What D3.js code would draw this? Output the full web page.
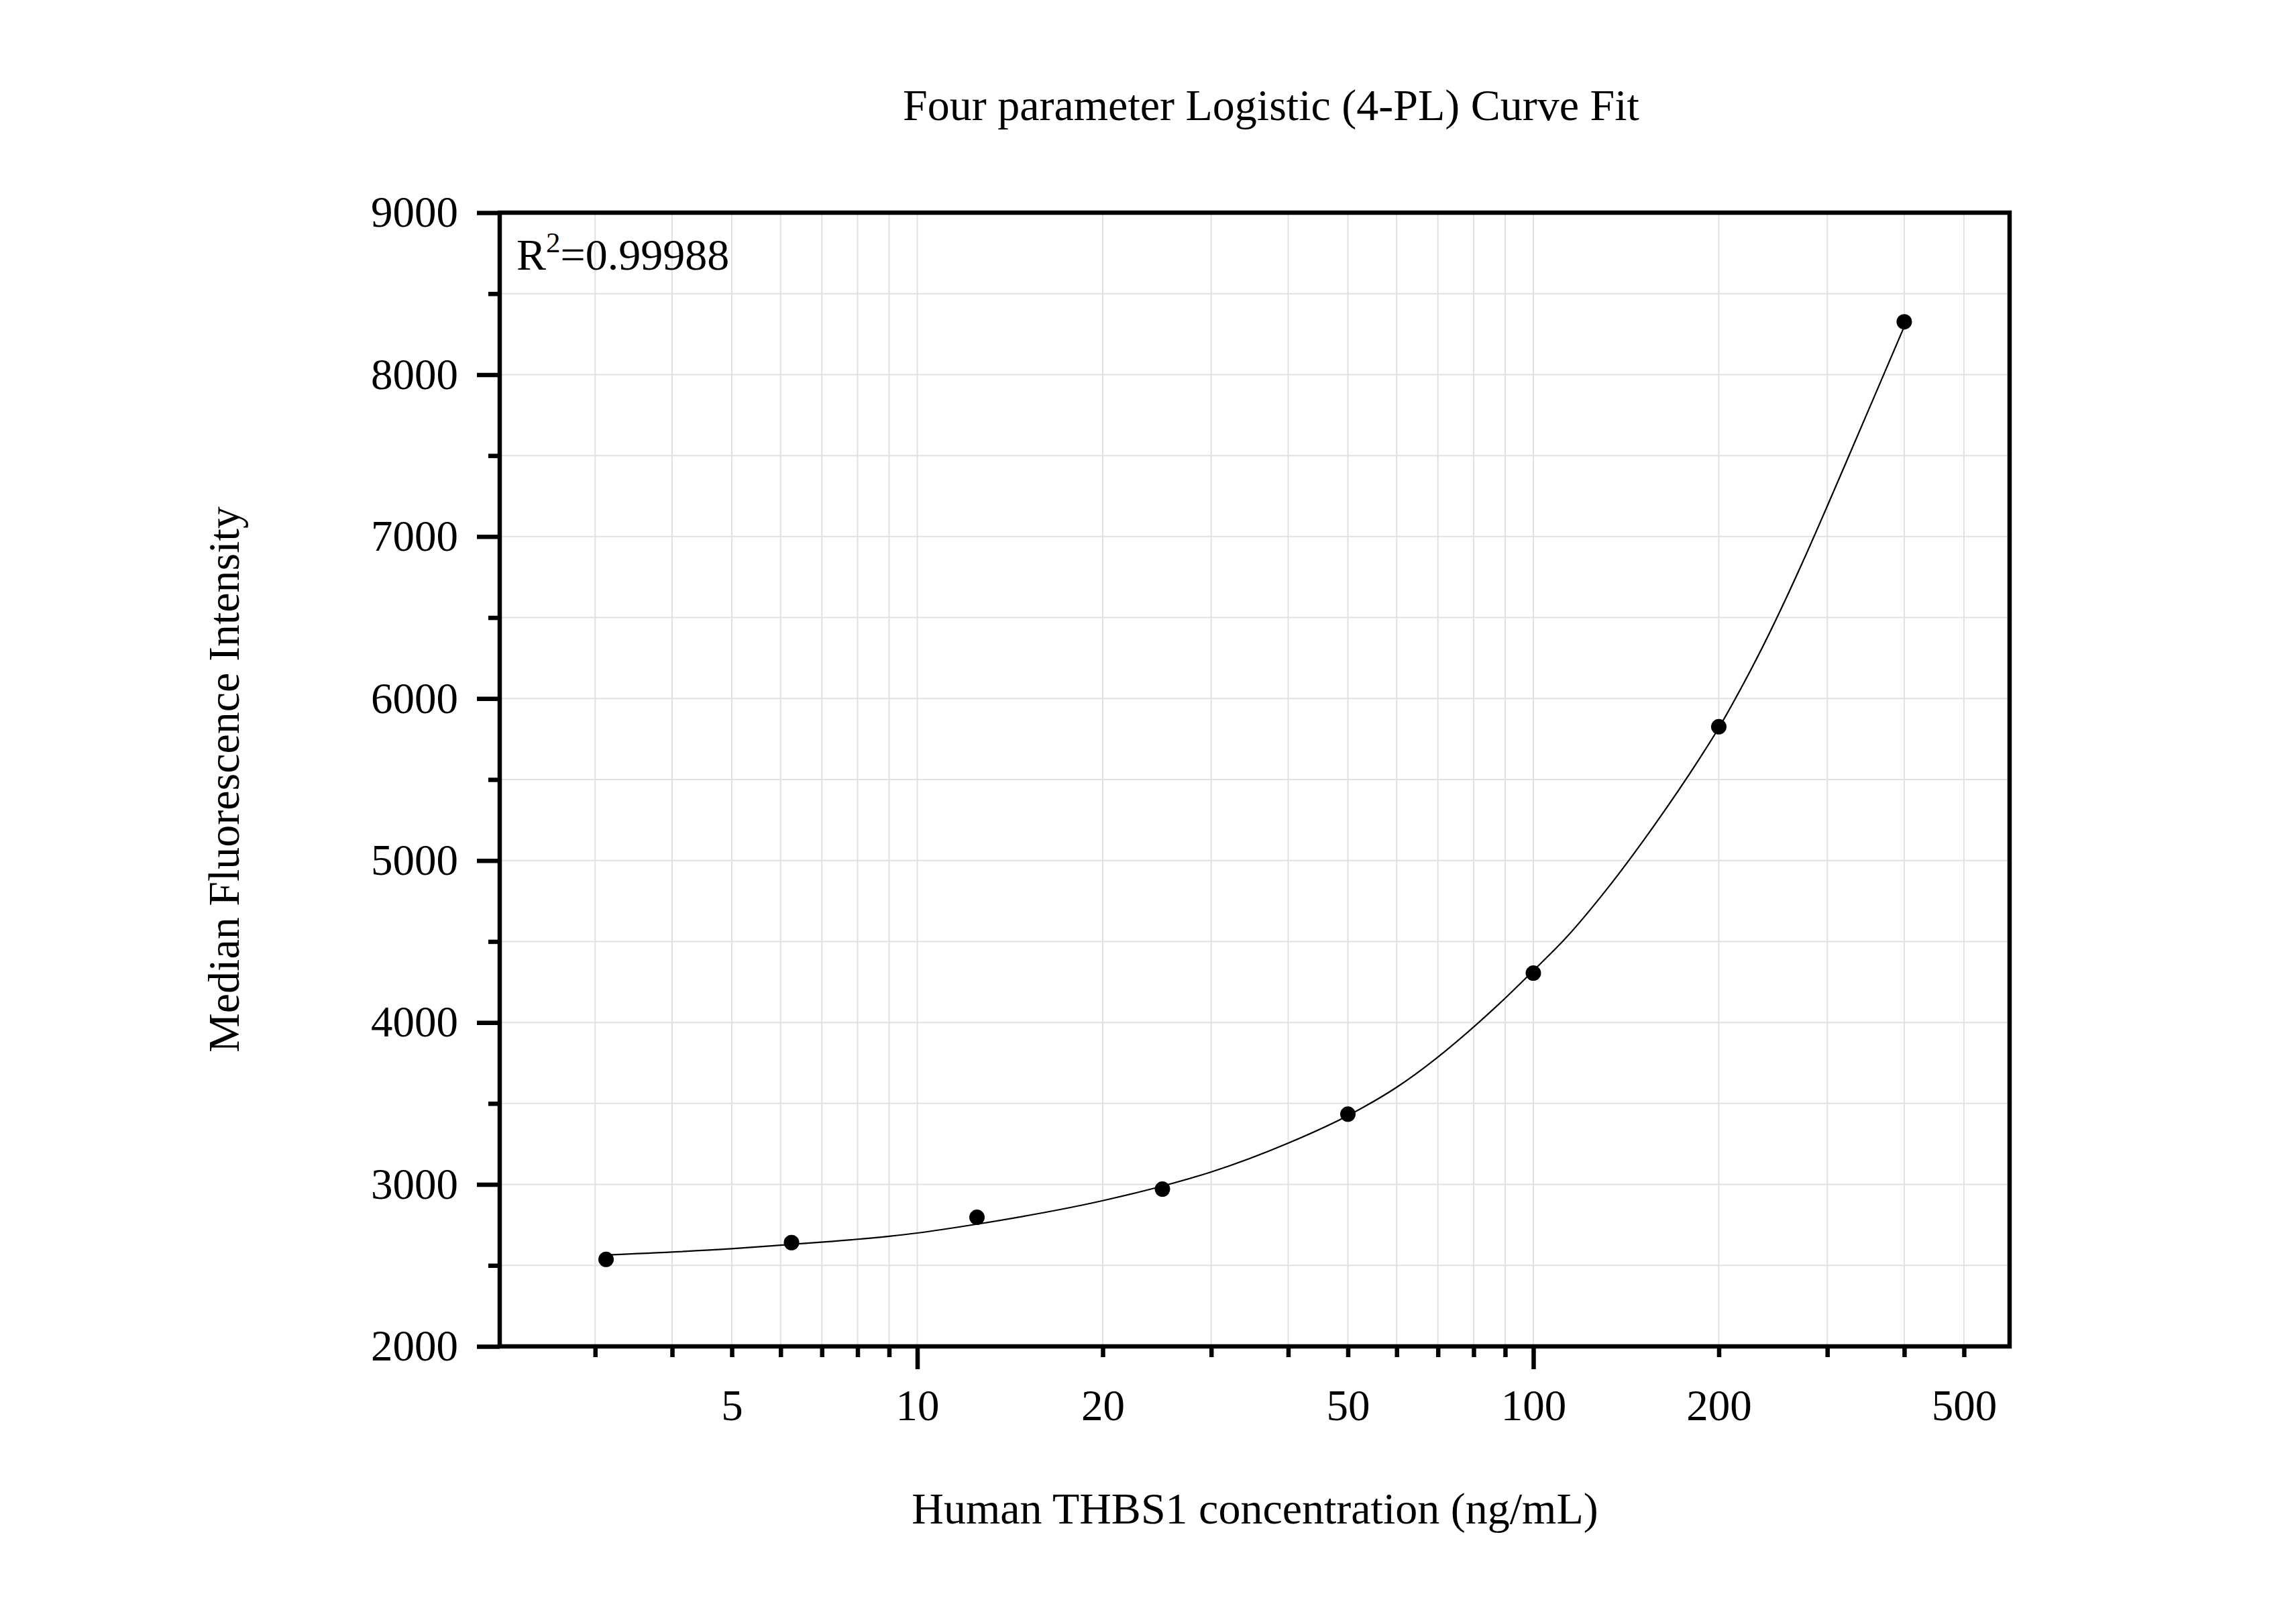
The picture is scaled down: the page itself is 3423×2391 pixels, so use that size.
<!DOCTYPE html>
<html>
<head>
<meta charset="utf-8">
<script src="https://cdn.jsdelivr.net/npm/d3@7/dist/d3.min.js"></script>
<style>
body { margin: 0; background: #ffffff; }
text { font-family: "Liberation Serif", "Times New Roman", serif; fill: #000000; }
</style>
</head>
<body>
<div id="chart"></div>
<script>
// standard points (concentration in ng/mL, MFI)
var concentrations = [3.125, 6.25, 12.5, 25, 50, 100, 200, 400];
var intensities = [2537, 2641, 2797, 2971, 3434, 4305, 5826, 8326];

// fitted 4-PL curve
var fitX = [3.125, 5, 6, 9, 10, 12.5, 20, 25, 30, 40, 50, 60, 88, 100, 112.5, 133, 157, 186, 200, 225, 362, 400];
var fitY = [2565, 2603, 2625, 2680, 2700, 2755, 2900, 2990, 3077, 3255, 3425, 3600, 4115, 4320, 4515, 4845, 5215, 5628, 5819, 6171, 7911, 8297];

var xMinorTicks = [3, 4, 5, 6, 7, 8, 9, 20, 30, 40, 50, 60, 70, 80, 90, 200, 300, 400, 500];
var xMajorTicks = [10, 100];
var xTickLabels = [5, 10, 20, 50, 100, 200, 500];
var yMajorTicks = [2000, 3000, 4000, 5000, 6000, 7000, 8000, 9000];
var yMinorTicks = [2500, 3500, 4500, 5500, 6500, 7500, 8500];

var chartTitle = "Four parameter Logistic (4-PL) Curve Fit";
var xTitle = "Human THBS1 concentration (ng/mL)";
var yTitle = "Median Fluorescence Intensity";
var rSquared = "0.99988";

var W = 3423, H = 2391;
var plot = {left: 745, right: 2996, top: 317, bottom: 2007};
var fontSize = 65;
var titleSize = 66;
var axisWidth = 6.5;

var svg = d3.select("#chart").append("svg")
	.attr("width", W)
	.attr("height", H);

svg.append("rect")
	.attr("width", W)
	.attr("height", H)
	.attr("fill", "#ffffff");

var x = d3.scaleLog().domain([2.1, 593]).range([plot.left, plot.right]);
var y = d3.scaleLinear().domain([2000, 9000]).range([plot.bottom, plot.top]);

// grid
var grid = svg.append("g").attr("class", "grid");
grid.selectAll(".vgrid")
	.data(xMinorTicks.concat(xMajorTicks))
	.enter().append("line")
	.attr("x1", function(d){ return x(d); })
	.attr("x2", function(d){ return x(d); })
	.attr("y1", plot.top)
	.attr("y2", plot.bottom)
	.attr("stroke", "#e1e1e1")
	.attr("stroke-width", 2);
grid.selectAll(".hgrid")
	.data(yMajorTicks.concat(yMinorTicks))
	.enter().append("line")
	.attr("x1", plot.left)
	.attr("x2", plot.right)
	.attr("y1", function(d){ return y(d); })
	.attr("y2", function(d){ return y(d); })
	.attr("stroke", "#e1e1e1")
	.attr("stroke-width", 2);

// fitted curve
var line = d3.line()
	.x(function(d){ return x(d[0]); })
	.y(function(d){ return y(d[1]); })
	.curve(d3.curveMonotoneX);

svg.append("path")
	.datum(d3.zip(fitX, fitY))
	.attr("d", line)
	.attr("fill", "none")
	.attr("stroke", "#000000")
	.attr("stroke-width", 2.2);

svg.selectAll(".point")
	.data(d3.zip(concentrations, intensities))
	.enter().append("circle")
	.attr("class", "point")
	.attr("cx", function(d){ return x(d[0]); })
	.attr("cy", function(d){ return y(d[1]); })
	.attr("r", 11.5)
	.attr("fill", "#000000");

function styleTicks(g){
	g.select(".domain").remove();
	g.selectAll(".tick line")
		.attr("stroke", "#000000")
		.attr("stroke-width", axisWidth);
	g.selectAll(".tick text")
		.attr("font-size", fontSize)
		.attr("font-family", "Liberation Serif, Times New Roman, serif");
}

// x axis ticks
svg.append("g")
	.attr("transform", "translate(0," + plot.bottom + ")")
	.call(d3.axisBottom(x).tickValues(xMinorTicks).tickSize(16).tickFormat(""))
	.call(styleTicks);
svg.append("g")
	.attr("transform", "translate(0," + plot.bottom + ")")
	.call(d3.axisBottom(x).tickValues(xMajorTicks).tickSize(34).tickFormat(""))
	.call(styleTicks);
svg.append("g")
	.attr("transform", "translate(0," + plot.bottom + ")")
	.call(d3.axisBottom(x).tickValues(xTickLabels).tickSize(0).tickPadding(64).tickFormat(d3.format("d")))
	.call(styleTicks);

// y axis ticks
svg.append("g")
	.attr("transform", "translate(" + plot.left + ",0)")
	.call(d3.axisLeft(y).tickValues(yMinorTicks).tickSize(17).tickFormat(""))
	.call(styleTicks);
svg.append("g")
	.attr("transform", "translate(" + plot.left + ",0)")
	.call(d3.axisLeft(y).tickValues(yMajorTicks).tickSize(34).tickFormat(""))
	.call(styleTicks);
svg.append("g")
	.attr("transform", "translate(" + plot.left + ",0)")
	.call(d3.axisLeft(y).tickValues(yMajorTicks).tickSize(0).tickPadding(62).tickFormat(d3.format("d")))
	.call(styleTicks);

// frame
svg.append("rect")
	.attr("x", plot.left)
	.attr("y", plot.top)
	.attr("width", plot.right - plot.left)
	.attr("height", plot.bottom - plot.top)
	.attr("fill", "none")
	.attr("stroke", "#000000")
	.attr("stroke-width", axisWidth);

// R^2
var r2 = svg.append("text")
	.attr("x", 770)
	.attr("y", 402)
	.attr("font-size", titleSize);
r2.append("tspan").text("R");
r2.append("tspan")
	.attr("dy", -26)
	.attr("font-size", 43)
	.text("2");
r2.append("tspan")
	.attr("dy", 26)
	.text("=" + rSquared);

// titles
svg.append("text")
	.attr("x", 1895)
	.attr("y", 179)
	.attr("text-anchor", "middle")
	.attr("font-size", titleSize)
	.text(chartTitle);

svg.append("text")
	.attr("x", 1871)
	.attr("y", 2271)
	.attr("text-anchor", "middle")
	.attr("font-size", titleSize)
	.text(xTitle);

svg.append("text")
	.attr("transform", "translate(356," + 1162 + ") rotate(-90)")
	.attr("text-anchor", "middle")
	.attr("font-size", titleSize)
	.text(yTitle);
</script>
</body>
</html>
